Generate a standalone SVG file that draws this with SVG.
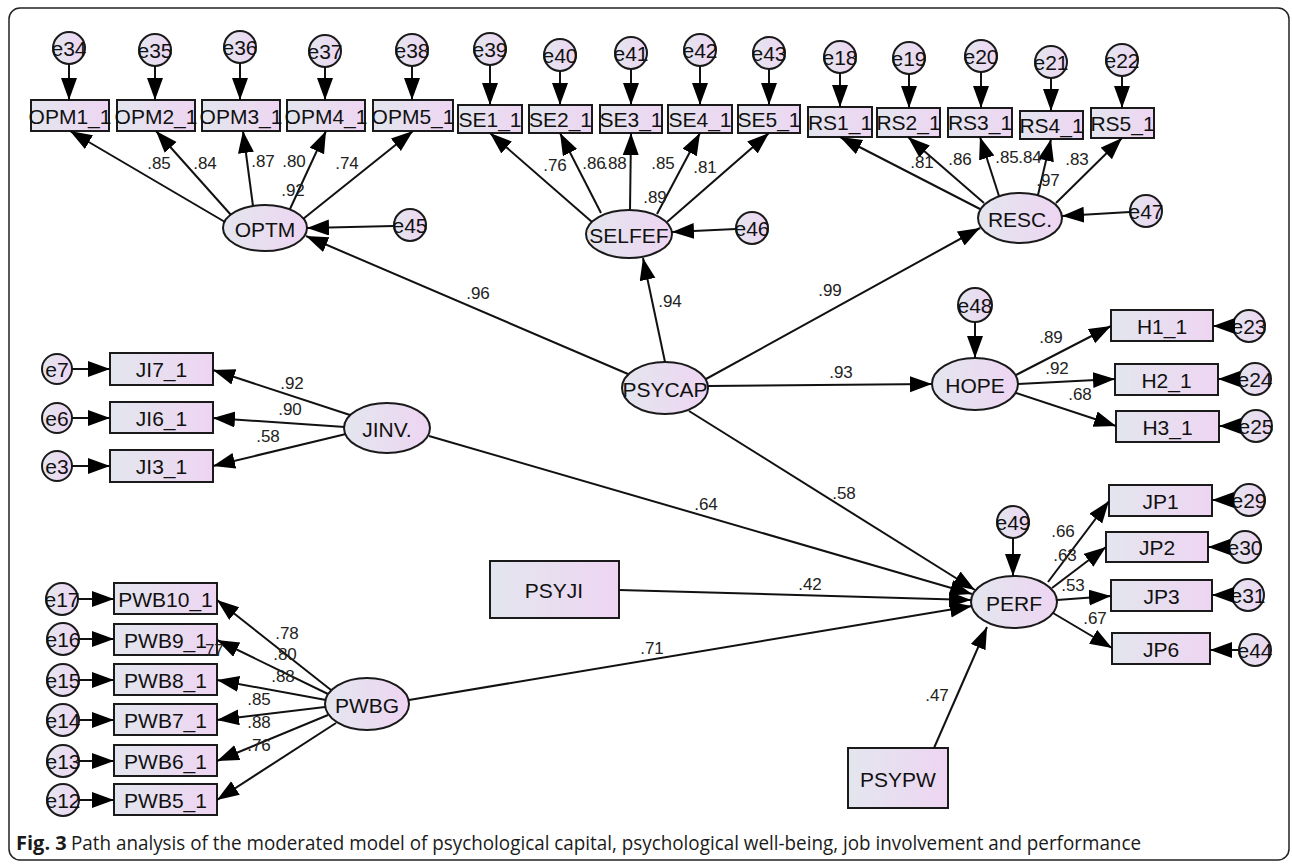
<svg xmlns="http://www.w3.org/2000/svg" width="1292" height="864" viewBox="0 0 1292 864">
<defs>
<linearGradient id="g" x1="0" y1="0" x2="1" y2="0">
<stop offset="0" stop-color="#e3e6ee"/>
<stop offset="1" stop-color="#eed5f2"/>
</linearGradient>
<marker id="ah" markerUnits="userSpaceOnUse" markerWidth="24" markerHeight="18" refX="22" refY="8" orient="auto">
<path d="M0,0 L22,8 L0,16 z" fill="#000"/>
</marker>
</defs>
<style>
.n rect,.n ellipse,.n circle{fill:url(#g);stroke:#1a1a1a;stroke-width:2}
.n text{font-family:"Liberation Sans",Arial,sans-serif;font-size:21px;fill:#111;text-anchor:middle;dominant-baseline:central}
#conn line{stroke:#111;stroke-width:2;marker-end:url(#ah)}
.lb{font-family:"Liberation Sans",Arial,sans-serif;font-size:17px;fill:#222;text-anchor:middle;dominant-baseline:central}
.cap{font-family:"Open Sans","Noto Sans",sans-serif;font-size:20px;fill:#1a1a1a}
</style>
<rect x="9" y="8" width="1280" height="852" rx="11" fill="#fff" stroke="#222" stroke-width="1.5"/>

<!-- OPTM block -->
<g id="e34" class="n"><circle cx="69" cy="48" r="16"/><text x="69" y="48">e34</text></g>
<g id="e35" class="n"><circle cx="155" cy="50" r="16"/><text x="155" y="50">e35</text></g>
<g id="e36" class="n"><circle cx="240" cy="47" r="16"/><text x="240" y="47">e36</text></g>
<g id="e37" class="n"><circle cx="325" cy="51" r="16"/><text x="325" y="51">e37</text></g>
<g id="e38" class="n"><circle cx="412" cy="50" r="16"/><text x="412" y="50">e38</text></g>
<g id="OPM1_1" class="n"><rect x="31" y="100" width="78" height="31"/><text x="70" y="116">OPM1_1</text></g>
<g id="OPM2_1" class="n"><rect x="117" y="100" width="78" height="31"/><text x="156" y="116">OPM2_1</text></g>
<g id="OPM3_1" class="n"><rect x="202" y="100" width="78" height="31"/><text x="241" y="116">OPM3_1</text></g>
<g id="OPM4_1" class="n"><rect x="287" y="100" width="78" height="31"/><text x="326" y="116">OPM4_1</text></g>
<g id="OPM5_1" class="n"><rect x="373" y="100" width="80" height="31"/><text x="413" y="116">OPM5_1</text></g>
<g id="OPTM" class="n"><ellipse cx="265" cy="228" rx="42" ry="23"/><text x="265" y="229">OPTM</text></g>
<g id="e45" class="n"><circle cx="410" cy="225" r="16"/><text x="410" y="225">e45</text></g>

<!-- SELFEF block -->
<g id="e39" class="n"><circle cx="490" cy="49" r="16"/><text x="490" y="49">e39</text></g>
<g id="e40" class="n"><circle cx="560" cy="55" r="16"/><text x="560" y="55">e40</text></g>
<g id="e41" class="n"><circle cx="631" cy="53" r="16"/><text x="631" y="53">e41</text></g>
<g id="e42" class="n"><circle cx="700" cy="50" r="16"/><text x="700" y="50">e42</text></g>
<g id="e43" class="n"><circle cx="769" cy="53" r="16"/><text x="769" y="53">e43</text></g>
<g id="SE1_1" class="n"><rect x="458" y="105" width="64" height="28"/><text x="490" y="119">SE1_1</text></g>
<g id="SE2_1" class="n"><rect x="529" y="105" width="63" height="28"/><text x="560.5" y="119">SE2_1</text></g>
<g id="SE3_1" class="n"><rect x="600" y="105" width="62" height="28"/><text x="631" y="119">SE3_1</text></g>
<g id="SE4_1" class="n"><rect x="668" y="105" width="64" height="28"/><text x="700" y="119">SE4_1</text></g>
<g id="SE5_1" class="n"><rect x="738" y="105" width="62" height="28"/><text x="769" y="119">SE5_1</text></g>
<g id="SELFEF" class="n"><ellipse cx="629" cy="234" rx="43" ry="24"/><text x="629" y="235">SELFEF</text></g>
<g id="e46" class="n"><circle cx="752" cy="228" r="16"/><text x="752" y="228">e46</text></g>

<!-- RESC block -->
<g id="e18" class="n"><circle cx="840" cy="57" r="16"/><text x="840" y="57">e18</text></g>
<g id="e19" class="n"><circle cx="909" cy="58" r="16"/><text x="909" y="58">e19</text></g>
<g id="e20" class="n"><circle cx="981" cy="56" r="16"/><text x="981" y="56">e20</text></g>
<g id="e21" class="n"><circle cx="1051" cy="62" r="16"/><text x="1051" y="62">e21</text></g>
<g id="e22" class="n"><circle cx="1122" cy="60" r="16"/><text x="1122" y="60">e22</text></g>
<g id="RS1_1" class="n"><rect x="808" y="107" width="64" height="30"/><text x="840" y="122">RS1_1</text></g>
<g id="RS2_1" class="n"><rect x="877" y="108" width="63" height="29"/><text x="908.5" y="122.5">RS2_1</text></g>
<g id="RS3_1" class="n"><rect x="948" y="108" width="64" height="29"/><text x="980" y="122.5">RS3_1</text></g>
<g id="RS4_1" class="n"><rect x="1020" y="111" width="63" height="28"/><text x="1051.5" y="125">RS4_1</text></g>
<g id="RS5_1" class="n"><rect x="1091" y="108" width="63" height="30"/><text x="1122.5" y="123">RS5_1</text></g>
<g id="RESC" class="n"><ellipse cx="1020" cy="218" rx="42" ry="25"/><text x="1020" y="219">RESC.</text></g>
<g id="e47" class="n"><circle cx="1146" cy="211" r="16"/><text x="1146" y="211">e47</text></g>

<!-- PSYCAP / HOPE -->
<g id="PSYCAP" class="n"><ellipse cx="665" cy="388" rx="43" ry="26"/><text x="665" y="389">PSYCAP</text></g>
<g id="e48" class="n"><circle cx="975" cy="305" r="17"/><text x="975" y="305">e48</text></g>
<g id="HOPE" class="n"><ellipse cx="975" cy="384" rx="43" ry="26"/><text x="975" y="385">HOPE</text></g>
<g id="H1_1" class="n"><rect x="1111" y="310" width="102" height="31"/><text x="1162" y="326">H1_1</text></g>
<g id="H2_1" class="n"><rect x="1115" y="364" width="103" height="31"/><text x="1166.5" y="380">H2_1</text></g>
<g id="H3_1" class="n"><rect x="1116" y="411" width="103" height="31"/><text x="1167.5" y="427">H3_1</text></g>
<g id="e23" class="n"><circle cx="1249" cy="326" r="16"/><text x="1249" y="326">e23</text></g>
<g id="e24" class="n"><circle cx="1255" cy="379" r="16"/><text x="1255" y="379">e24</text></g>
<g id="e25" class="n"><circle cx="1256" cy="426" r="16"/><text x="1256" y="426">e25</text></g>

<!-- JINV block -->
<g id="e7" class="n"><circle cx="57" cy="369" r="15"/><text x="57" y="369">e7</text></g>
<g id="e6" class="n"><circle cx="57" cy="418" r="15"/><text x="57" y="418">e6</text></g>
<g id="e3" class="n"><circle cx="57" cy="466" r="15"/><text x="57" y="466">e3</text></g>
<g id="JI7_1" class="n"><rect x="110" y="353" width="103" height="32"/><text x="161.5" y="369">JI7_1</text></g>
<g id="JI6_1" class="n"><rect x="110" y="402" width="103" height="31"/><text x="161.5" y="418">JI6_1</text></g>
<g id="JI3_1" class="n"><rect x="110" y="450" width="103" height="32"/><text x="161.5" y="466">JI3_1</text></g>
<g id="JINV" class="n"><ellipse cx="387" cy="428" rx="43" ry="25"/><text x="387" y="429">JINV.</text></g>

<!-- PERF block -->
<g id="e49" class="n"><circle cx="1013" cy="522" r="16"/><text x="1013" y="522">e49</text></g>
<g id="PERF" class="n"><ellipse cx="1014" cy="602" rx="43" ry="26"/><text x="1014" y="603">PERF</text></g>
<g id="JP1" class="n"><rect x="1109" y="485" width="103" height="31"/><text x="1160.5" y="501">JP1</text></g>
<g id="JP2" class="n"><rect x="1106" y="532" width="102" height="30"/><text x="1157" y="547">JP2</text></g>
<g id="JP3" class="n"><rect x="1111" y="580" width="101" height="31"/><text x="1161.5" y="596">JP3</text></g>
<g id="JP6" class="n"><rect x="1112" y="633" width="98" height="31"/><text x="1161" y="649">JP6</text></g>
<g id="e29" class="n"><circle cx="1249" cy="500" r="16"/><text x="1249" y="500">e29</text></g>
<g id="e30" class="n"><circle cx="1245" cy="547" r="16"/><text x="1245" y="547">e30</text></g>
<g id="e31" class="n"><circle cx="1248" cy="595" r="16"/><text x="1248" y="595">e31</text></g>
<g id="e44" class="n"><circle cx="1255" cy="650" r="16"/><text x="1255" y="650">e44</text></g>

<!-- moderators -->
<g id="PSYJI" class="n"><rect x="490" y="561" width="129" height="57"/><text x="554" y="590">PSYJI</text></g>
<g id="PSYPW" class="n"><rect x="848" y="748" width="100" height="60"/><text x="898" y="779">PSYPW</text></g>

<!-- PWBG block -->
<g id="e17" class="n"><circle cx="62" cy="599" r="16"/><text x="62" y="599">e17</text></g>
<g id="e16" class="n"><circle cx="63" cy="639" r="16"/><text x="63" y="639">e16</text></g>
<g id="e15" class="n"><circle cx="63" cy="680" r="16"/><text x="63" y="680">e15</text></g>
<g id="e14" class="n"><circle cx="63" cy="720" r="16"/><text x="63" y="720">e14</text></g>
<g id="e13" class="n"><circle cx="63" cy="761" r="16"/><text x="63" y="761">e13</text></g>
<g id="e12" class="n"><circle cx="63" cy="800" r="16"/><text x="63" y="800">e12</text></g>
<g id="PWB10_1" class="n"><rect x="114" y="583" width="103" height="31"/><text x="165.5" y="599">PWB10_1</text></g>
<g id="PWB9_1" class="n"><rect x="114" y="624" width="103" height="31"/><text x="165.5" y="640">PWB9_1</text></g>
<g id="PWB8_1" class="n"><rect x="114" y="664" width="103" height="31"/><text x="165.5" y="680">PWB8_1</text></g>
<g id="PWB7_1" class="n"><rect x="114" y="704" width="103" height="31"/><text x="165.5" y="720">PWB7_1</text></g>
<g id="PWB6_1" class="n"><rect x="114" y="745" width="103" height="31"/><text x="165.5" y="761">PWB6_1</text></g>
<g id="PWB5_1" class="n"><rect x="114" y="784" width="103" height="31"/><text x="165.5" y="800">PWB5_1</text></g>
<g id="PWBG" class="n"><ellipse cx="367" cy="704" rx="42" ry="26"/><text x="367" y="705">PWBG</text></g>

<g id="conn">
<line x1="69" y1="64" x2="69" y2="100"/>
<line x1="155" y1="66" x2="155" y2="100"/>
<line x1="240" y1="63" x2="240" y2="100"/>
<line x1="325" y1="67" x2="325" y2="100"/>
<line x1="412" y1="66" x2="412" y2="100"/>
<line x1="490" y1="65" x2="490" y2="105"/>
<line x1="560" y1="71" x2="560" y2="105"/>
<line x1="631" y1="69" x2="631" y2="105"/>
<line x1="700" y1="66" x2="700" y2="105"/>
<line x1="769" y1="69" x2="769" y2="105"/>
<line x1="840" y1="73" x2="840" y2="107"/>
<line x1="909" y1="74" x2="909" y2="108"/>
<line x1="981" y1="72" x2="981" y2="108"/>
<line x1="1051" y1="78" x2="1051" y2="111"/>
<line x1="1122" y1="76" x2="1122" y2="108"/>
<line x1="225" y1="222" x2="70" y2="131"/>
<line x1="231" y1="215" x2="156" y2="131"/>
<line x1="253" y1="206" x2="243" y2="131"/>
<line x1="290" y1="209" x2="326" y2="131"/>
<line x1="303" y1="219" x2="413" y2="131"/>
<line x1="394" y1="226" x2="307" y2="228"/>
<line x1="592" y1="222" x2="490" y2="133"/>
<line x1="601" y1="213" x2="560" y2="133"/>
<line x1="630" y1="210" x2="631" y2="133"/>
<line x1="657" y1="214" x2="700" y2="133"/>
<line x1="667" y1="222" x2="769" y2="133"/>
<line x1="736" y1="229" x2="672" y2="232"/>
<line x1="980" y1="209" x2="840" y2="137"/>
<line x1="984" y1="203" x2="908" y2="137"/>
<line x1="999" y1="196" x2="980" y2="137"/>
<line x1="1038" y1="195" x2="1051" y2="139"/>
<line x1="1056" y1="203" x2="1122" y2="138"/>
<line x1="1130" y1="212" x2="1062" y2="216"/>
<line x1="628" y1="374" x2="306" y2="236"/>
<line x1="665" y1="362" x2="643" y2="258"/>
<line x1="706" y1="379" x2="980" y2="228"/>
<line x1="708" y1="386" x2="932" y2="384"/>
<line x1="689" y1="411" x2="975" y2="590"/>
<line x1="975" y1="322" x2="975" y2="358"/>
<line x1="1016" y1="375" x2="1111" y2="326"/>
<line x1="1018" y1="384" x2="1115" y2="379"/>
<line x1="1016" y1="393" x2="1116" y2="426"/>
<line x1="1233" y1="326" x2="1213" y2="326"/>
<line x1="1239" y1="379" x2="1218" y2="379"/>
<line x1="1240" y1="426" x2="1219" y2="426"/>
<line x1="72" y1="369" x2="110" y2="369"/>
<line x1="72" y1="418" x2="110" y2="418"/>
<line x1="72" y1="466" x2="110" y2="466"/>
<line x1="350" y1="415" x2="213" y2="370"/>
<line x1="345" y1="427" x2="213" y2="418"/>
<line x1="346" y1="434" x2="213" y2="466"/>
<line x1="429" y1="436" x2="972" y2="594"/>
<line x1="1013" y1="538" x2="1013" y2="576"/>
<line x1="1048" y1="582" x2="1109" y2="501"/>
<line x1="1052" y1="588" x2="1106" y2="547"/>
<line x1="1057" y1="600" x2="1111" y2="596"/>
<line x1="1053" y1="613" x2="1112" y2="648"/>
<line x1="1233" y1="500" x2="1212" y2="500"/>
<line x1="1229" y1="547" x2="1208" y2="547"/>
<line x1="1232" y1="595" x2="1212" y2="595"/>
<line x1="1239" y1="650" x2="1210" y2="650"/>
<line x1="619" y1="590" x2="971" y2="600"/>
<line x1="934" y1="748" x2="987" y2="627"/>
<line x1="78" y1="599" x2="114" y2="599"/>
<line x1="79" y1="639" x2="114" y2="639"/>
<line x1="79" y1="680" x2="114" y2="680"/>
<line x1="79" y1="720" x2="114" y2="720"/>
<line x1="79" y1="761" x2="114" y2="761"/>
<line x1="79" y1="800" x2="114" y2="800"/>
<line x1="331" y1="690" x2="217" y2="600"/>
<line x1="328" y1="694" x2="217" y2="640"/>
<line x1="326" y1="700" x2="217" y2="680"/>
<line x1="325" y1="707" x2="217" y2="720"/>
<line x1="328" y1="715" x2="217" y2="761"/>
<line x1="336" y1="723" x2="217" y2="800"/>
<line x1="409" y1="700" x2="972" y2="606"/>
</g>

<g id="labels">
<text class="lb" x="159" y="163">.85</text>
<text class="lb" x="205" y="163">.84</text>
<text class="lb" x="263" y="161">.87</text>
<text class="lb" x="294" y="161">.80</text>
<text class="lb" x="293" y="190">.92</text>
<text class="lb" x="347" y="163">.74</text>
<text class="lb" x="555" y="165">.76</text>
<text class="lb" x="594" y="163">.86</text>
<text class="lb" x="615" y="163">.88</text>
<text class="lb" x="663" y="163">.85</text>
<text class="lb" x="705" y="167">.81</text>
<text class="lb" x="655" y="197">.89</text>
<text class="lb" x="922" y="162">.81</text>
<text class="lb" x="960" y="159">.86</text>
<text class="lb" x="1007" y="157">.85</text>
<text class="lb" x="1030" y="157">.84</text>
<text class="lb" x="1048" y="180">.97</text>
<text class="lb" x="1077" y="159">.83</text>
<text class="lb" x="478" y="293">.96</text>
<text class="lb" x="670" y="301">.94</text>
<text class="lb" x="830" y="290">.99</text>
<text class="lb" x="841" y="372">.93</text>
<text class="lb" x="1051" y="337">.89</text>
<text class="lb" x="1057" y="368">.92</text>
<text class="lb" x="1080" y="394">.68</text>
<text class="lb" x="292" y="383">.92</text>
<text class="lb" x="290" y="409">.90</text>
<text class="lb" x="268" y="436">.58</text>
<text class="lb" x="706" y="504">.64</text>
<text class="lb" x="844" y="493">.58</text>
<text class="lb" x="810" y="584">.42</text>
<text class="lb" x="652" y="648">.71</text>
<text class="lb" x="937" y="695">.47</text>
<text class="lb" x="1063" y="531">.66</text>
<text class="lb" x="1065" y="555">.63</text>
<text class="lb" x="1073" y="585">.53</text>
<text class="lb" x="1095" y="618">.67</text>
<text class="lb" x="287" y="633">.78</text>
<text class="lb" x="285" y="654">.80</text>
<text class="lb" x="212" y="650">.77</text>
<text class="lb" x="283" y="676">.88</text>
<text class="lb" x="259" y="699">.85</text>
<text class="lb" x="259" y="722">.88</text>
<text class="lb" x="259" y="745">.76</text>
</g>

<g id="caption">
<text class="cap" x="16" y="850" font-weight="bold">Fig. 3</text>
<text class="cap" x="71" y="850" textLength="1070" lengthAdjust="spacingAndGlyphs">Path analysis of the moderated model of psychological capital, psychological well-being, job involvement and performance</text>
</g>
</svg>
